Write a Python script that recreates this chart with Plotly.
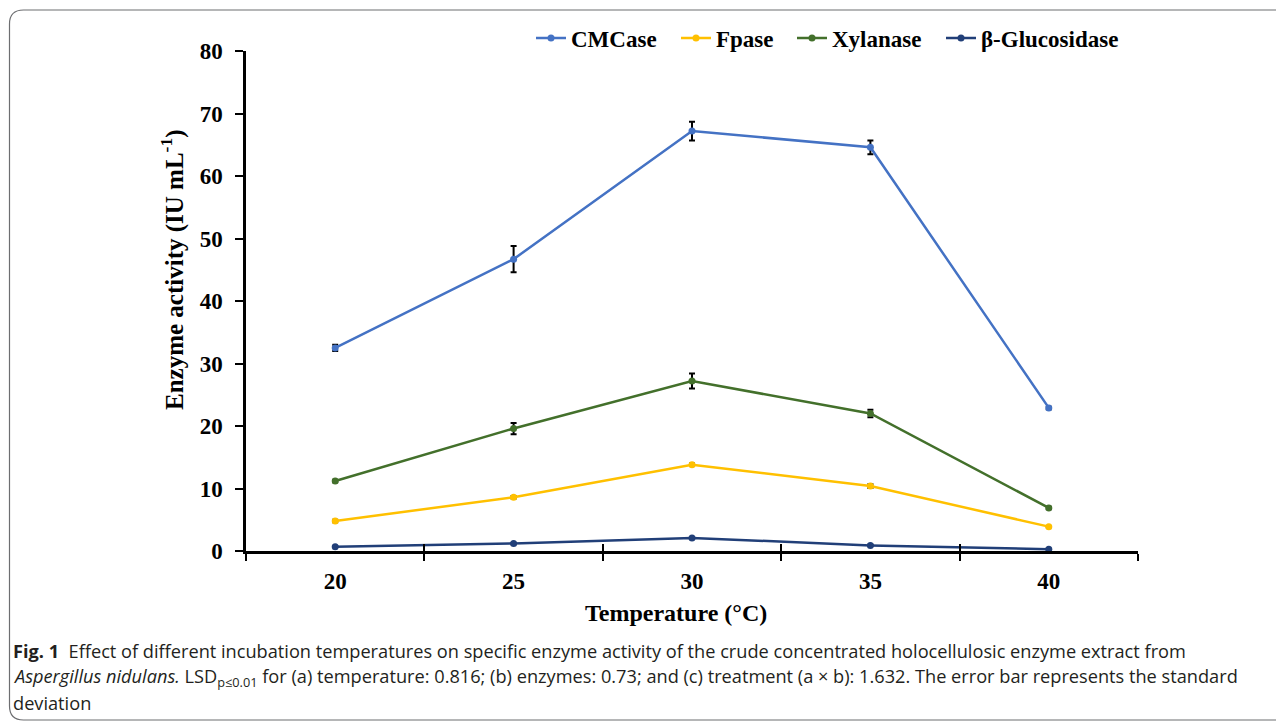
import plotly.graph_objs as go

temps = ["20", "25", "30", "35", "40"]

cmcase = [32.5, 46.7, 67.2, 64.6, 22.9]
cmcase_sd = [0.5, 2.1, 1.5, 1.1, 0.2]
fpase = [4.8, 8.6, 13.8, 10.4, 3.9]
fpase_sd = [0.2, 0.2, 0.2, 0.3, 0.1]
xylanase = [11.2, 19.6, 27.2, 22.0, 6.9]
xylanase_sd = [0.2, 0.9, 1.2, 0.6, 0.2]
glucosidase = [0.7, 1.2, 2.1, 0.9, 0.3]
glucosidase_sd = [0.05, 0.1, 0.1, 0.1, 0.05]

series = [
    ("CMCase", cmcase, cmcase_sd, "#4472C4"),
    ("Fpase", fpase, fpase_sd, "#FFC000"),
    ("Xylanase", xylanase, xylanase_sd, "#43702B"),
    ("β-Glucosidase", glucosidase, glucosidase_sd, "#213F78"),
]

# page body has an 8px margin, so the figure is drawn offset by 8px
OFF = 8
W, H = 1284 - OFF, 724 - OFF
L, R, T, B = 246 - OFF, 146, 51 - OFF, 173


def px(x, y):
    # screen pixel position -> paper coordinates
    return (x - OFF - L) / (W - L - R), (H - B - (y - OFF)) / (H - T - B)


def cont(x, y):
    # screen pixel position -> container coordinates
    return (x - OFF) / W, 1 - (y - OFF) / H


serif = "Liberation Serif"
sans = "Open Sans"

legend_names = ["legend", "legend2", "legend3", "legend4"]
legend_x = [546, 691, 807, 956]

fig = go.Figure()
for (name, vals, sd, col), lg in zip(series, legend_names):
    fig.add_trace(go.Scatter(
        x=temps, y=vals, name=name, mode="lines+markers", legend=lg,
        line=dict(color=col, width=2.5),
        marker=dict(color=col, size=7), cliponaxis=False,
        error_y=dict(type="data", array=sd, color="black", thickness=2, width=3)))

# invisible trace so the overlay axis (inner half of the cross ticks) is drawn
fig.add_trace(go.Scatter(x=[None], y=[None], xaxis="x2", showlegend=False,
                         hoverinfo="skip"))

legend_font = dict(family=serif, size=23, color="black", weight="bold")
for lg, lx in zip(legend_names, legend_x):
    lx_c, ly_c = cont(lx - 15, 38)
    fig.update_layout({lg: dict(x=lx_c, y=ly_c, xref="container", yref="container",
                                xanchor="left", yanchor="middle",
                                orientation="h", font=legend_font,
                                bgcolor="rgba(0,0,0,0)")})

fig.update_layout(
    width=W, height=H,
    margin=dict(l=L, r=R, t=T, b=B, autoexpand=False),
    paper_bgcolor="white", plot_bgcolor="white",
    showlegend=True,
    xaxis=dict(type="category", range=[-0.5, 4.5], tickson="boundaries",
               ticks="outside", ticklen=7, tickwidth=2, tickcolor="black",
               showline=True, linecolor="black", linewidth=2.5,
               showgrid=False, zeroline=False,
               tickfont=dict(family=serif, size=23, color="black", weight="bold"),
               ticklabelstandoff=8),
    xaxis2=dict(overlaying="x", anchor="y", range=[-0.5, 4.5],
                tickvals=[-0.5, 0.5, 1.5, 2.5, 3.5, 4.5], ticks="inside", ticklen=7,
                tickwidth=2, tickcolor="black", showticklabels=False,
                showline=False, showgrid=False, zeroline=False, side="bottom"),
    yaxis=dict(range=[0, 80], dtick=10, ticks="outside", ticklen=8, tickwidth=2,
               tickcolor="black", showline=True, linecolor="black", linewidth=2.5,
               showgrid=False, zeroline=False,
               tickfont=dict(family=serif, size=23, color="black", weight="bold"),
               ticklabelstandoff=8),
)

annotations = []
ax, ay = px(172, 270)
annotations.append(dict(xref="paper", yref="paper", x=ax, y=ay, showarrow=False,
                        xanchor="center", yanchor="middle",
                        text="Enzyme activity (IU mL<sup>-1</sup>)", textangle=-90,
                        font=dict(family=serif, size=25, color="black", weight="bold")))
ax, ay = px(676, 613)
annotations.append(dict(xref="paper", yref="paper", x=ax, y=ay, showarrow=False,
                        xanchor="center", yanchor="middle",
                        text="Temperature (°C)",
                        font=dict(family=serif, size=24, color="black", weight="bold")))

caption = [
    "<b>Fig. 1</b>  Effect of different incubation temperatures on specific enzyme activity "
    "of the crude concentrated holocellulosic enzyme extract from",
    "<i>Aspergillus nidulans.</i> LSD<sub>p≤0.01</sub> for (a) temperature: 0.816; "
    "(b) enzymes: 0.73; and (c) treatment (a × b): 1.632. The error bar represents the standard",
    "deviation",
]
for i, line in enumerate(caption):
    cx, cy = px(11, 651 + 26 * i)
    annotations.append(dict(xref="paper", yref="paper", x=cx, y=cy, xanchor="left",
                            yanchor="middle", showarrow=False, text=line,
                            font=dict(family=sans, size=18.2, color="#231F20")))
fig.update_layout(annotations=annotations)

# rounded frame around figure and caption
x0, y0 = px(9.5, 10)
x1, y1 = px(1300, 720)
rx = 14 / (W - L - R)
ry = 14 / (H - T - B)
path = (f"M {x0 + rx},{y0} L {x1 - rx},{y0} Q {x1},{y0} {x1},{y0 - ry} "
        f"L {x1},{y1 + ry} Q {x1},{y1} {x1 - rx},{y1} L {x0 + rx},{y1} "
        f"Q {x0},{y1} {x0},{y1 + ry} L {x0},{y0 - ry} Q {x0},{y0} {x0 + rx},{y0} Z")
fig.add_shape(type="path", path=path, xref="paper", yref="paper",
              line=dict(color="#6d6e71", width=1.2), layer="below")

fig.write_html("out.html")
